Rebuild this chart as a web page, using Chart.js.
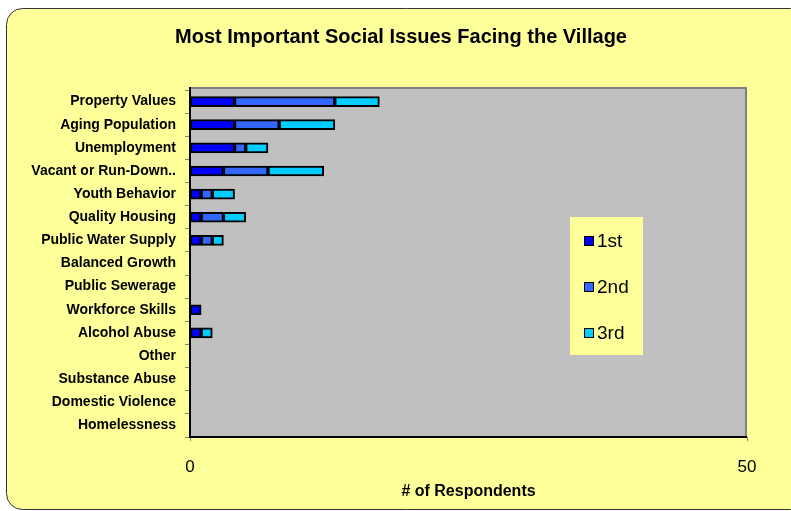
<!DOCTYPE html>
<html>
<head>
<meta charset="utf-8">
<script src="https://cdn.jsdelivr.net/npm/chart.js"></script>
<style>
  body { margin: 0; background: #fff; }
  #wrap { width: 791px; height: 511px; }
</style>
</head>
<body>
<div id="wrap"><canvas id="barChart" width="791" height="511"></canvas></div>
<script>
const categories = [
  "Property Values", "Aging Population", "Unemployment", "Vacant or Run-Down..",
  "Youth Behavior", "Quality Housing", "Public Water Supply", "Balanced Growth",
  "Public Sewerage", "Workforce Skills", "Alcohol Abuse", "Other",
  "Substance Abuse", "Domestic Violence", "Homelessness"
];
const first  = [4, 4, 4, 3, 1, 1, 1, 0, 0, 1, 1, 0, 0, 0, 0];
const second = [9, 4, 1, 4, 1, 2, 1, 0, 0, 0, 0, 0, 0, 0, 0];
const third  = [4, 5, 2, 5, 2, 2, 1, 0, 0, 0, 1, 0, 0, 0, 0];
const seriesNames = ["1st", "2nd", "3rd"];
const seriesColors = ["#0000FF", "#3366FF", "#00CCFF"];
const xTicks = [0, 50];

// yellow rounded panel, grey plot area, title, legend box
const decor = {
  id: 'decor',
  beforeDraw(chart) {
    const ctx = chart.ctx;
    const a = chart.chartArea;
    const top = 87;
    ctx.save();
    ctx.fillStyle = '#fff';
    ctx.fillRect(0, 0, chart.width, chart.height);
    ctx.beginPath();
    ctx.roundRect(6.5, 8.5, 800, 501, 16);
    ctx.fillStyle = '#FFFF99';
    ctx.fill();
    ctx.strokeStyle = '#333';
    ctx.lineWidth = 1;
    ctx.stroke();
    ctx.fillStyle = '#C0C0C0';
    ctx.fillRect(a.left, top, a.right - a.left, a.bottom - top);
    ctx.strokeStyle = '#808080';
    ctx.lineWidth = 2;
    ctx.beginPath();
    ctx.moveTo(a.left, top + 1);
    ctx.lineTo(a.right - 1, top + 1);
    ctx.lineTo(a.right - 1, a.bottom);
    ctx.stroke();
    ctx.fillStyle = '#000';
    ctx.font = 'bold 20px "Liberation Sans", Arial, sans-serif';
    ctx.textAlign = 'center';
    ctx.textBaseline = 'middle';
    ctx.fillText('Most Important Social Issues Facing the Village', 401, 37);
    ctx.restore();
  },
  afterDatasetsDraw(chart) {
    const ctx = chart.ctx;
    const a = chart.chartArea;
    ctx.save();
    // axis lines
    ctx.strokeStyle = '#000';
    ctx.lineWidth = 2;
    ctx.beginPath();
    ctx.moveTo(a.left, 87);
    ctx.lineTo(a.left, a.bottom);
    ctx.lineTo(a.right, a.bottom);
    ctx.stroke();
    // legend
    const lx = 570, ly = 217;
    ctx.fillStyle = '#FFFF99';
    ctx.fillRect(lx, ly, 73, 138);
    ctx.font = '19px "Liberation Sans", Arial, sans-serif';
    ctx.textBaseline = 'middle';
    ctx.textAlign = 'left';
    seriesNames.forEach((name, i) => {
      const cy = ly + 24 + i * 46;
      ctx.fillStyle = seriesColors[i];
      ctx.fillRect(lx + 14, cy - 5, 9, 9);
      ctx.strokeStyle = '#000';
      ctx.lineWidth = 1;
      ctx.strokeRect(lx + 14.5, cy - 4.5, 9, 9);
      ctx.fillStyle = '#000';
      ctx.fillText(name, lx + 27, cy + 1);
    });
    ctx.restore();
  }
};

new Chart(document.getElementById('barChart'), {
  type: 'bar',
  data: {
    labels: categories,
    datasets: [first, second, third].map((vals, i) => ({
      label: seriesNames[i],
      data: vals,
      backgroundColor: seriesColors[i],
      borderColor: '#000',
      borderWidth: 2,
      borderSkipped: false,
      barThickness: 10
    }))
  },
  options: {
    indexAxis: 'y',
    responsive: false,
    animation: false,
    layout: { padding: { top: 90, right: 44, left: 0, bottom: 0 } },
    plugins: {
      legend: { display: false },
      title: { display: false },
      tooltip: { enabled: false }
    },
    scales: {
      x: {
        stacked: true,
        min: 0,
        max: 50,
        afterFit(scale) { scale.height = 74; },
        afterBuildTicks(scale) { scale.ticks = xTicks.map(v => ({ value: v })); },
        border: { display: false },
        grid: { drawOnChartArea: false, tickLength: 4, color: '#808080' },
        ticks: {
          padding: 16,
          color: '#000',
          font: { family: '"Liberation Sans", Arial, sans-serif', size: 17 }
        },
        title: {
          display: true,
          text: '# of Respondents',
          color: '#000',
          padding: { top: 0, bottom: 10 },
          font: { family: '"Liberation Sans", Arial, sans-serif', size: 16, weight: 'bold' }
        }
      },
      y: {
        stacked: true,
        afterFit(scale) { scale.width = 190; },
        border: { display: false },
        grid: { drawOnChartArea: false, tickLength: 5, color: '#808080', offset: true },
        ticks: {
          padding: 9,
          color: '#000',
          autoSkip: false,
          font: { family: '"Liberation Sans", Arial, sans-serif', size: 14, weight: 'bold' }
        }
      }
    }
  },
  plugins: [decor]
});
</script>
</body>
</html>
